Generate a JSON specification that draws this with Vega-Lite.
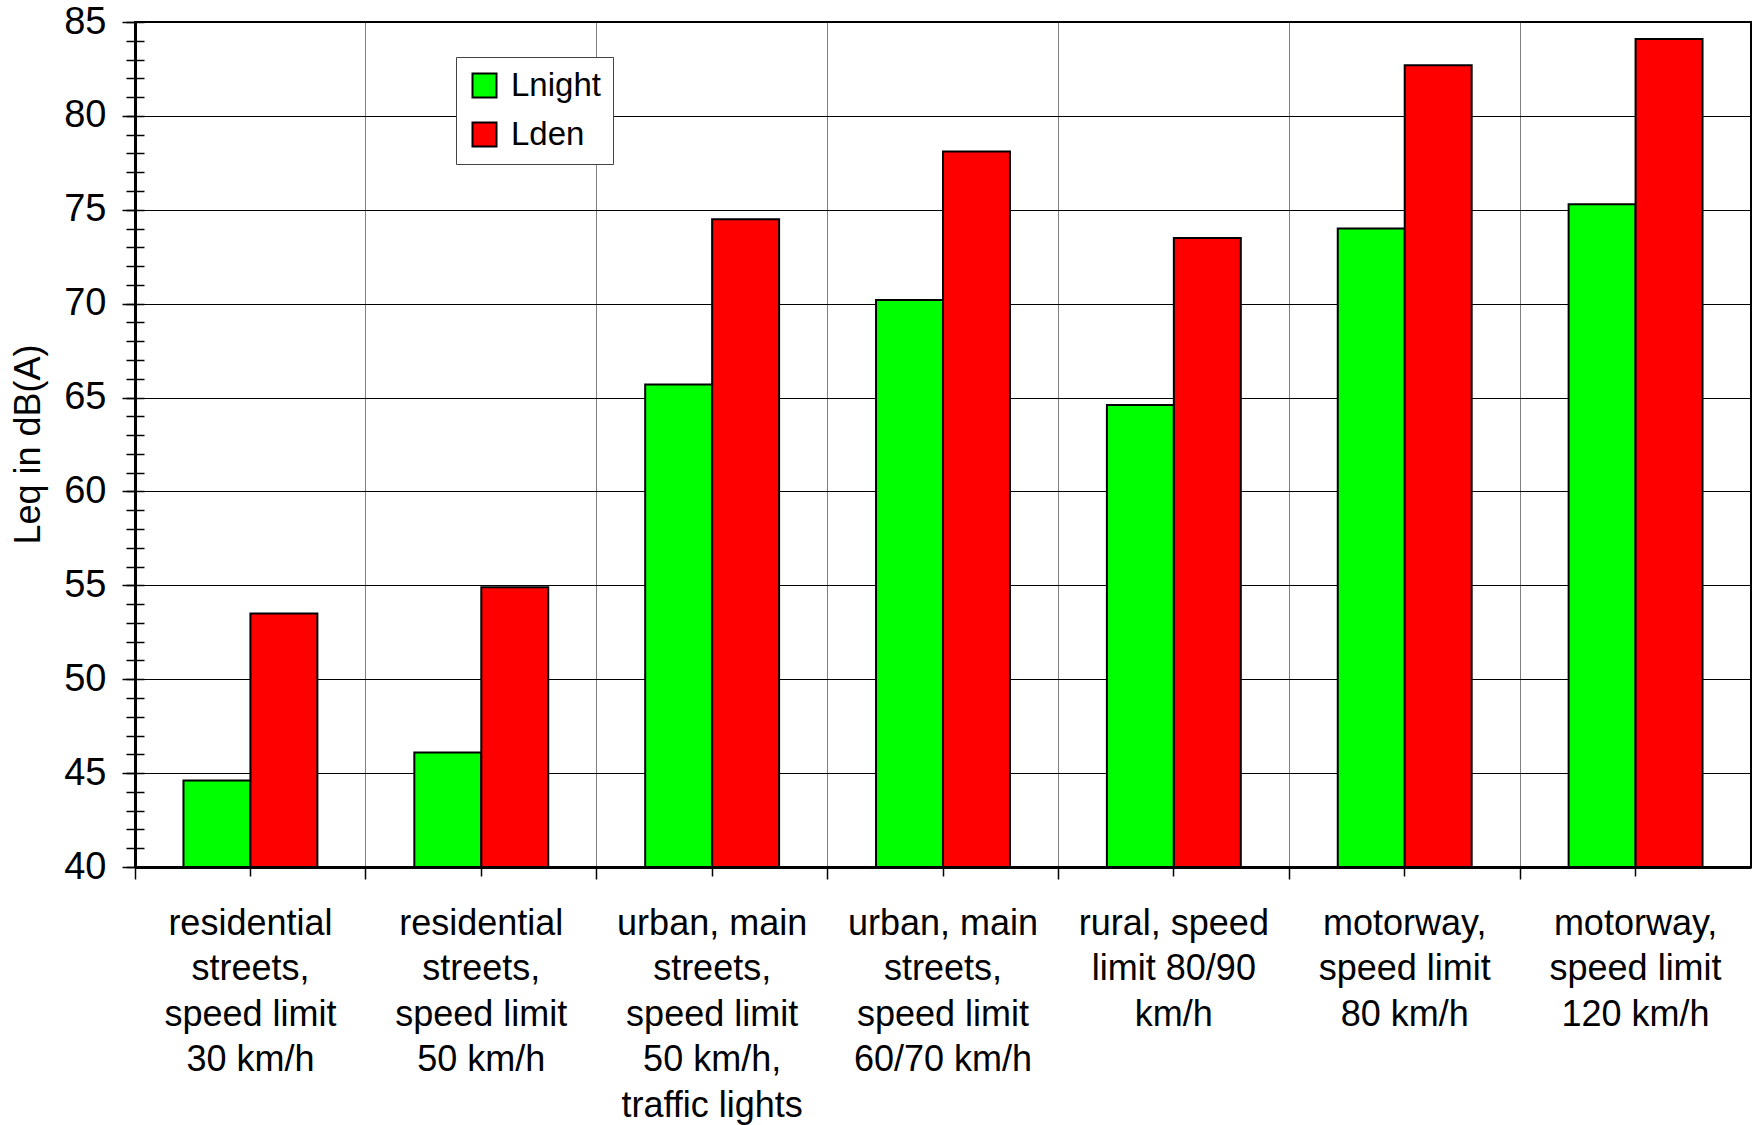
{
  "$schema": "https://vega.github.io/schema/vega-lite/v6.json",
  "width": 1616,
  "height": 845,
  "autosize": {"type": "none"},
  "padding": {"left": 135, "top": 22, "right": 7, "bottom": 258},
  "background": "white",
  "config": {
    "font": "Liberation Sans",
    "view": {"stroke": "black", "strokeWidth": 2},
    "axis": {"labelColor": "black", "titleColor": "black", "labelFont": "Liberation Sans", "titleFont": "Liberation Sans"}
  },
  "data": {
    "values": [
      {"road": "residential\nstreets,\nspeed limit\n30 km/h", "series": "Lnight", "value": 44.6},
      {"road": "residential\nstreets,\nspeed limit\n30 km/h", "series": "Lden", "value": 53.5},
      {"road": "residential\nstreets,\nspeed limit\n50 km/h", "series": "Lnight", "value": 46.1},
      {"road": "residential\nstreets,\nspeed limit\n50 km/h", "series": "Lden", "value": 54.9},
      {"road": "urban, main\nstreets,\nspeed limit\n50 km/h,\ntraffic lights", "series": "Lnight", "value": 65.7},
      {"road": "urban, main\nstreets,\nspeed limit\n50 km/h,\ntraffic lights", "series": "Lden", "value": 74.5},
      {"road": "urban, main\nstreets,\nspeed limit\n60/70 km/h", "series": "Lnight", "value": 70.2},
      {"road": "urban, main\nstreets,\nspeed limit\n60/70 km/h", "series": "Lden", "value": 78.1},
      {"road": "rural, speed\nlimit 80/90\nkm/h", "series": "Lnight", "value": 64.6},
      {"road": "rural, speed\nlimit 80/90\nkm/h", "series": "Lden", "value": 73.5},
      {"road": "motorway,\nspeed limit\n80 km/h", "series": "Lnight", "value": 74.0},
      {"road": "motorway,\nspeed limit\n80 km/h", "series": "Lden", "value": 82.7},
      {"road": "motorway,\nspeed limit\n120 km/h", "series": "Lnight", "value": 75.3},
      {"road": "motorway,\nspeed limit\n120 km/h", "series": "Lden", "value": 84.1}
    ]
  },
  "layer": [
    {
      "mark": {"type": "bar", "stroke": "black", "strokeWidth": 2},
      "encoding": {
        "x": {
          "field": "road", "type": "nominal", "sort": null,
          "scale": {"type": "band", "paddingInner": 0, "paddingOuter": 0},
          "axis": {
            "orient": "bottom", "title": null,
            "grid": false,
            "ticks": true, "tickSize": 9, "tickColor": "black", "tickWidth": 1.5,
            "domain": true, "domainColor": "black", "domainWidth": 3,
            "labelAngle": 0, "labelAlign": "center", "labelBaseline": "alphabetic",
            "labelExpr": "split(datum.value, '\\n')",
            "labelFontSize": 36, "labelLineHeight": 45.6,
            "labelPadding": 58, "labelLimit": 0
          }
        },
        "xOffset": {
          "field": "series", "type": "nominal", "sort": ["Lnight", "Lden"],
          "scale": {"paddingInner": 0, "paddingOuter": 0.724}
        },
        "y": {
          "field": "value", "type": "quantitative",
          "scale": {"domain": [40, 85], "nice": false, "zero": false},
          "axis": {
            "orient": "left", "values": [40, 45, 50, 55, 60, 65, 70, 75, 80, 85],
            "grid": true, "gridColor": "black", "gridWidth": 1,
            "tickSize": 13, "tickColor": "black", "tickWidth": 1.5,
            "domain": true, "domainColor": "black", "domainWidth": 3,
            "labelFontSize": 38, "labelPadding": 16,
            "title": "Leq in dB(A)", "titleFontSize": 36, "titleFontWeight": "normal",
            "titleAngle": -90, "titleX": -107, "titleY": 422,
            "titleAlign": "center", "titleBaseline": "middle"
          }
        },
        "y2": {"datum": 40},
        "color": {
          "field": "series", "type": "nominal", "sort": ["Lnight", "Lden"],
          "scale": {"domain": ["Lnight", "Lden"], "range": ["#00ff00", "#ff0000"]},
          "legend": {
            "title": null, "orient": "none", "legendX": 321, "legendY": 35,
            "fillColor": "white", "strokeColor": "#444444", "padding": 12,
            "symbolType": "square", "symbolSize": 576, "symbolStrokeColor": "black",
            "symbolStrokeWidth": 2, "symbolOpacity": 1,
            "labelFontSize": 33, "labelColor": "black", "labelOffset": 10,
            "rowPadding": 15
          }
        }
      }
    },
    {
      "mark": {"type": "bar", "opacity": 0},
      "encoding": {
        "x": {
          "field": "road", "type": "nominal", "sort": null,
          "scale": {"type": "band"},
          "axis": {
            "orient": "bottom", "title": null, "bandPosition": 0,
            "grid": true, "gridColor": "#808080", "gridWidth": 1,
            "labels": false, "domain": false,
            "tickSize": 12, "tickColor": "black", "tickWidth": 1.5
          }
        },
        "y": {
          "field": "value", "type": "quantitative",
          "scale": {"domain": [40, 85], "nice": false, "zero": false},
          "axis": {
            "orient": "left", "title": null, "labels": false, "grid": false, "domain": false,
            "values": [40,41,42,43,44,45,46,47,48,49,50,51,52,53,54,55,56,57,58,59,60,61,62,63,64,65,66,67,68,69,70,71,72,73,74,75,76,77,78,79,80,81,82,83,84,85],
            "tickSize": 9, "tickColor": "black", "tickWidth": 1.5
          }
        },
        "y2": {"datum": 40}
      }
    },
    {
      "mark": {"type": "bar", "opacity": 0},
      "encoding": {
        "y": {
          "field": "value", "type": "quantitative",
          "scale": {"domain": [40, 85], "nice": false, "zero": false},
          "axis": {
            "orient": "left", "title": null, "labels": false, "grid": false, "domain": false,
            "values": [40,41,42,43,44,45,46,47,48,49,50,51,52,53,54,55,56,57,58,59,60,61,62,63,64,65,66,67,68,69,70,71,72,73,74,75,76,77,78,79,80,81,82,83,84,85],
            "tickSize": -9, "tickColor": "black", "tickWidth": 1.5
          }
        },
        "y2": {"datum": 40}
      }
    }
  ],
  "resolve": {"axis": {"x": "independent", "y": "independent"}}
}
